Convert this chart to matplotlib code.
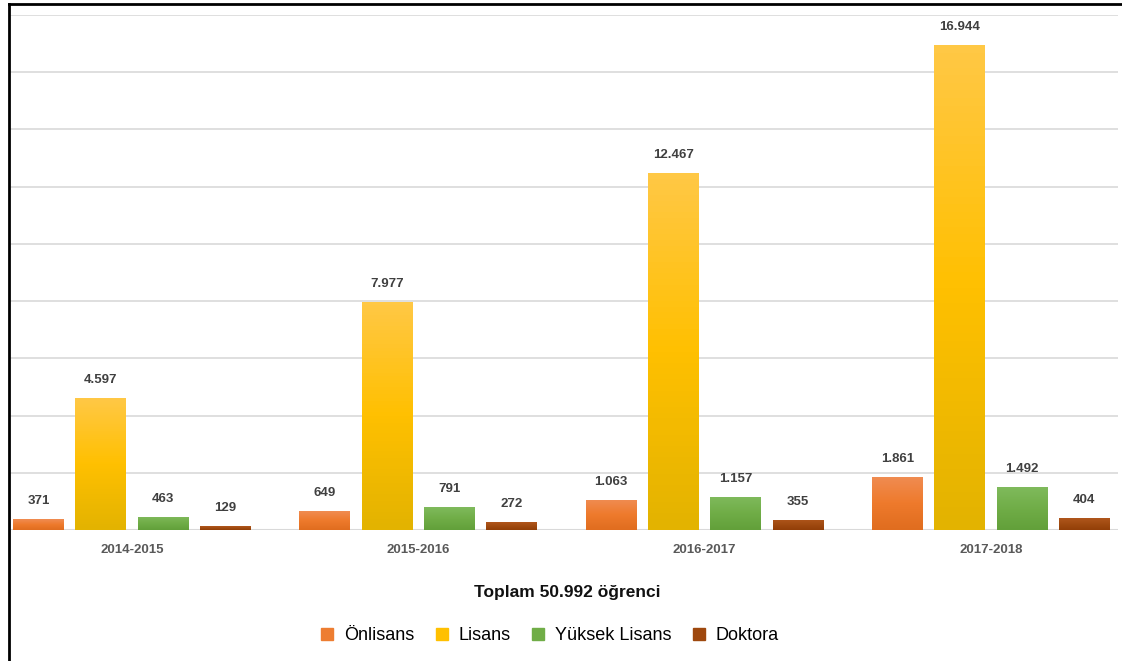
import matplotlib.pyplot as plt
import numpy as np
from matplotlib.colors import LinearSegmentedColormap
from matplotlib.lines import Line2D

years = ["2014-2015", "2015-2016", "2016-2017", "2017-2018"]
programs = ["Önlisans", "Lisans", "Yüksek Lisans", "Doktora"]
onlisans = [371, 649, 1063, 1861]
lisans = [4597, 7977, 12467, 16944]
yuksek_lisans = [463, 791, 1157, 1492]
doktora = [129, 272, 355, 404]
total_label = "Toplam 50.992 öğrenci"

series = [onlisans, lisans, yuksek_lisans, doktora]
base_colors = ["#ED7D31", "#FFC000", "#70AD47", "#9E480E"]
gradients = [
    ["#F08C52", "#EE7A2C", "#E06D1F"],
    ["#FFC845", "#FFC000", "#E3B300"],
    ["#7FBA5C", "#70AD47", "#62A03A"],
    ["#B0561C", "#A04A10", "#923F08"],
]


def fmt(v):
    return f"{v:,}".replace(",", ".")


W, H = 1122, 661
fig = plt.figure(figsize=(W / 100, H / 100), dpi=100)
ax = fig.add_axes([10 / W, (H - 530) / H, (1118 - 10) / W, (530 - 15) / H])

x = np.arange(len(years))
pitch = 0.2176
width = 0.178
label_font = ["Liberation Sans", "DejaVu Sans"]

for k, (vals, col, grad) in enumerate(zip(series, base_colors, gradients)):
    cmap = LinearSegmentedColormap.from_list(programs[k], grad[::-1])
    bars = ax.bar(x + (k - 1.5) * pitch, vals, width, color=col, zorder=2)
    for bar, v in zip(bars, vals):
        x0, w = bar.get_x(), bar.get_width()
        img = ax.imshow(np.linspace(0, 1, 64).reshape(-1, 1), cmap=cmap,
                        extent=(x0, x0 + w, 0, v), origin="lower",
                        aspect="auto", zorder=3)
        img.set_clip_path(bar)
        ax.annotate(fmt(v), (x0 + w / 2, v), xytext=(0, 18),
                    textcoords="offset pixels", ha="center", va="center",
                    fontsize=9.5, fontweight="bold", color="#404040",
                    family=label_font)

ax.set_xlim(-0.426, 3.444)
ax.set_ylim(0, 18000)
ax.set_yticks(np.arange(2000, 18001, 2000))
ax.yaxis.grid(True, color="#D9D9D9", linewidth=1.2, zorder=0)
ax.axhline(0, color="#D9D9D9", linewidth=1.5, zorder=1)
ax.tick_params(left=False, labelleft=False, bottom=False, labelbottom=False)
for s in ax.spines.values():
    s.set_visible(False)

for xi, yr in zip(x, years):
    ax.annotate(yr, (xi, 0), xytext=(0, -20), textcoords="offset pixels",
                ha="center", va="center", fontsize=9.5, fontweight="bold",
                color="#595959", family=label_font)

fig.text(567 / W, 1 - 593 / H, total_label, ha="center", va="center",
         fontsize=12.5, fontweight="bold", family="Liberation Sans",
         color="#111111")

handles = [plt.Rectangle((0, 0), 1, 1, color=c) for c in base_colors]
fig.legend(handles, programs, loc="center", bbox_to_anchor=(550 / W, 1 - 636 / H),
           ncol=4, frameon=False, handlelength=0.65, handleheight=0.65,
           handletextpad=0.6, columnspacing=1.2,
           prop={"family": "Liberation Sans", "size": 13})

# black frame on the left and top
fig.add_artist(Line2D([8.5 / W, 8.5 / W], [0, 1 - 3.5 / H], color="black",
                      linewidth=2, transform=fig.transFigure))
fig.add_artist(Line2D([8.5 / W, 1], [1 - 3.5 / H, 1 - 3.5 / H], color="black",
                      linewidth=2, transform=fig.transFigure))

fig.savefig("out.png", dpi=100)
